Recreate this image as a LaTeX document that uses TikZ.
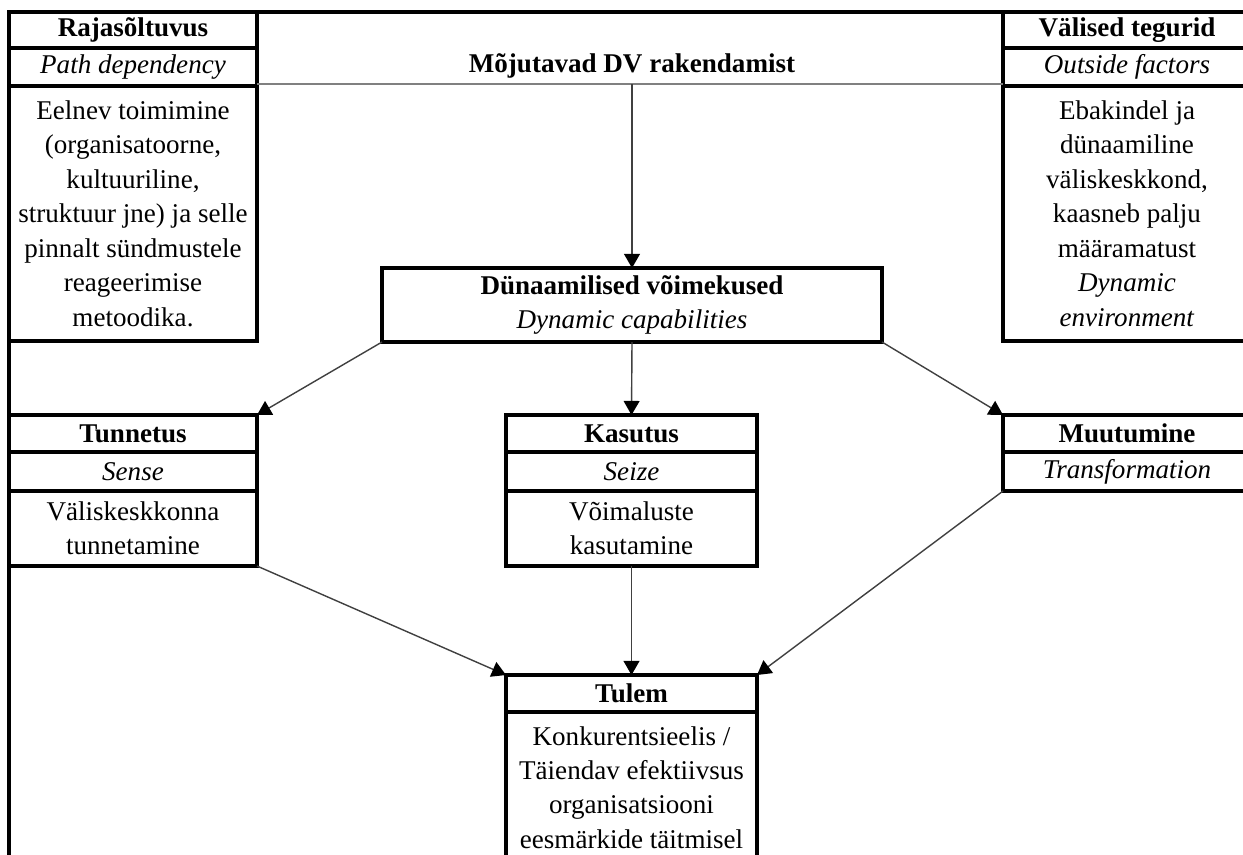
\documentclass[tikz,border=0pt]{standalone}
\usepackage{fontspec}
\setmainfont{Liberation Serif}
\usepackage{tikz}
\usetikzlibrary{arrows.meta,positioning}

\newcommand{\diagfont}{\fontsize{15.4}{19.6}\selectfont}

\begin{document}
\begin{tikzpicture}[
    row/.style={draw, line width=1.8pt, inner sep=0pt, outer sep=0pt,
      align=center, font=\diagfont},
    hd/.style={row, font=\diagfont\bfseries},
    sub/.style={row, font=\diagfont\itshape},
    link/.style={-{Triangle[length=8pt,width=9pt,fill=black,color=black]}, line width=0.8pt, black!75},
    frame/.style={line width=1.8pt}]
    \useasboundingbox (0,0) rectangle (24.86,-17.08);
    \clip (0,0) rectangle (24.86,-17.08);

    % Left column
    \node[hd, anchor=north west, minimum width=4.96cm, minimum height=0.72cm] (rajaHead) at (0.18,-0.24) {Rajasõltuvus};
    \node[sub, below=0pt of rajaHead, minimum width=4.96cm, minimum height=0.76cm] (rajaSub) {Path dependency};
    \node[row, below=0pt of rajaSub, minimum width=4.96cm, minimum height=5.1cm] (rajaBody)
      {Eelnev toimimine\\(organisatoorne,\\kultuuriline,\\struktuur jne) ja selle\\pinnalt sündmustele\\reageerimise\\metoodika.};

    % Right column
    \node[hd, anchor=north west, minimum width=4.96cm, minimum height=0.72cm] (valHead) at (20.06,-0.24) {Välised tegurid};
    \node[sub, below=0pt of valHead, minimum width=4.96cm, minimum height=0.76cm] (valSub) {Outside factors};
    \node[row, below=0pt of valSub, minimum width=4.96cm, minimum height=5.1cm] (valBody)
      {Ebakindel ja\\dünaamiline\\väliskeskkond,\\kaasneb palju\\määramatust\\\textit{Dynamic}\\\textit{environment}};

    % Outer frame
    \draw[frame] (0.18,-17.5) -- (0.18,-0.24) -- (25.2,-0.24);

    % Title
    \node[font=\diagfont\bfseries, anchor=south, inner sep=0pt, minimum height=0.72cm] (title) at (12.64,-1.68) {Mõjutavad DV rakendamist};
    \draw[gray, line width=0.6pt] (title.south -| rajaSub.east) -- (title.south -| valSub.west);

    % Dynamic capabilities
    \node[row, minimum width=10cm, minimum height=1.48cm] (dv) at (12.64,-6.10)
      {\textbf{Dünaamilised võimekused}\\\textit{Dynamic capabilities}};

    % Sense, seize, transform
    \node[hd, anchor=north west, minimum width=4.96cm, minimum height=0.74cm] (tunHead) at (0.18,-8.30) {Tunnetus};
    \node[sub, below=0pt of tunHead, minimum width=4.96cm, minimum height=0.78cm] (tunSub) {Sense};
    \node[row, below=0pt of tunSub, minimum width=4.96cm, minimum height=1.5cm] (tunBody) {Väliskeskkonna\\tunnetamine};

    \node[hd, anchor=north west, minimum width=5.02cm, minimum height=0.74cm] (kasHead) at (10.12,-8.30) {Kasutus};
    \node[sub, below=0pt of kasHead, minimum width=5.02cm, minimum height=0.78cm] (kasSub) {Seize};
    \node[row, below=0pt of kasSub, minimum width=5.02cm, minimum height=1.5cm] (kasBody) {Võimaluste\\kasutamine};

    \node[hd, anchor=north west, minimum width=4.96cm, minimum height=0.74cm] (muuHead) at (20.06,-8.30) {Muutumine};
    \node[sub, below=0pt of muuHead, minimum width=4.96cm, minimum height=0.78cm] (muuSub) {Transformation};

    % Outcome
    \node[hd, anchor=north west, minimum width=5.02cm, minimum height=0.74cm] (tulHead) at (10.12,-13.50) {Tulem};
    \node[row, below=0pt of tulHead, minimum width=5.02cm, minimum height=3.02cm] (tulBody)
      {Konkurentsieelis /\\Täiendav efektiivsus\\organisatsiooni\\eesmärkide täitmisel};

    % Arrows
    \draw[link] (title.south) -- (dv.north);
    \draw[link] (dv.south west) -- (tunHead.north east);
    \draw[link] (dv.south) -- (kasHead.north);
    \draw[link] (dv.south east) -- (muuHead.north west);
    \draw[link] (tunBody.south east) -- (tulHead.north west);
    \draw[link] (kasBody.south) -- (tulHead.north);
    \draw[link] (muuSub.south west) -- (tulHead.north east);
\end{tikzpicture}
\end{document}
